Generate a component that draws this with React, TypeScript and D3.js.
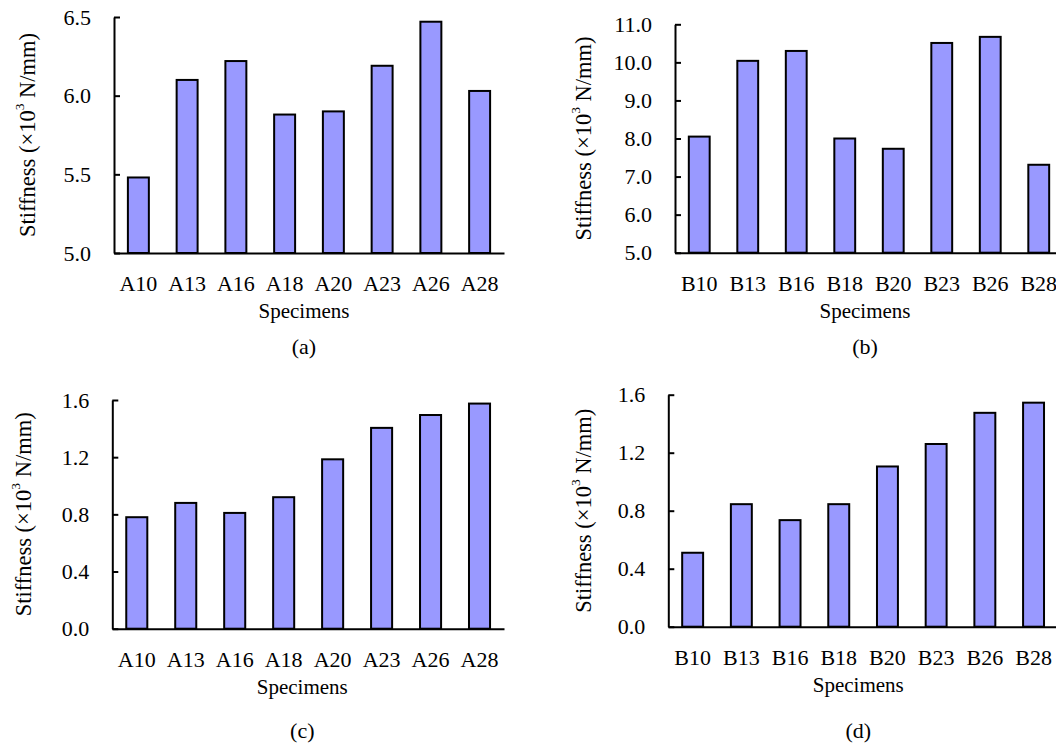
import React, { useEffect, useRef } from 'react';
import * as d3 from 'd3';

// specimen names
const specimensA = ['A10', 'A13', 'A16', 'A18', 'A20', 'A23', 'A26', 'A28'];
const specimensB = ['B10', 'B13', 'B16', 'B18', 'B20', 'B23', 'B26', 'B28'];

// stiffness values (x10^3 N/mm)
const stiffnessA1 = [5.48, 6.10, 6.22, 5.88, 5.90, 6.19, 6.47, 6.03];
const stiffnessB1 = [8.05, 10.04, 10.30, 8.00, 7.73, 10.51, 10.67, 7.31];
const stiffnessA2 = [0.78, 0.88, 0.81, 0.92, 1.185, 1.405, 1.495, 1.575];
const stiffnessB2 = [0.51, 0.845, 0.735, 0.845, 1.105, 1.26, 1.475, 1.545];

// y tick values
const ticksA1 = [5.0, 5.5, 6.0, 6.5];
const ticksB1 = [5.0, 6.0, 7.0, 8.0, 9.0, 10.0, 11.0];
const ticks2 = [0.0, 0.4, 0.8, 1.2, 1.6];

const panelLetters = ['(a)', '(b)', '(c)', '(d)'];

const FONT = '"Liberation Serif", "Times New Roman", serif';
const FS = 22; // tick labels
const FS_TITLE = 22.5; // y title

const App = () => {
  const ref = useRef<SVGSVGElement | null>(null);

  useEffect(() => {
    if (!ref.current) return;
    const svg = d3.select(ref.current);
    svg.selectAll('*').remove();

    const panels = [
      { cats: specimensA, vals: stiffnessA1, ticks: ticksA1, domain: [5, 6.5], x0: 114, w: 390, top: 17, bot: 253, titleX: 27, letterY: 354 },
      { cats: specimensB, vals: stiffnessB1, ticks: ticksB1, domain: [5, 11], x0: 675, w: 388, top: 24.3, bot: 252.7, titleX: 583, letterY: 354 },
      { cats: specimensA, vals: stiffnessA2, ticks: ticks2, domain: [0, 1.6], x0: 112.3, w: 391.7, top: 400, bot: 628.7, titleX: 23, letterY: 738 },
      { cats: specimensB, vals: stiffnessB2, ticks: ticks2, domain: [0, 1.6], x0: 668.3, w: 389.6, top: 394.7, bot: 626.7, titleX: 583, letterY: 738 },
    ];

    panels.forEach((p, i) => {
      const g = svg.append('g');

      const x = d3.scaleBand<string>()
        .domain(p.cats)
        .range([p.x0, p.x0 + p.w])
        .padding(0);

      const y = d3.scaleLinear()
        .domain(p.domain)
        .range([p.bot, p.top]);

      const barW = x.bandwidth() * 0.43;

      // bars
      g.selectAll('rect.bar')
        .data(p.vals)
        .enter()
        .append('rect')
        .attr('class', 'bar')
        .attr('x', (d, j) => (x(p.cats[j]) as number) + x.bandwidth() / 2 - barW / 2)
        .attr('y', d => y(d))
        .attr('width', barW)
        .attr('height', d => p.bot - y(d))
        .attr('fill', '#9999ff')
        .attr('stroke', '#000')
        .attr('stroke-width', 2);

      // y axis, ticks point inward
      const yAxis = g.append('g')
        .attr('transform', `translate(${p.x0},0)`)
        .call(
          d3.axisLeft(y)
            .tickValues(p.ticks)
            .tickFormat(d3.format('.1f'))
            .tickSizeInner(-6)
            .tickSizeOuter(0)
            .tickPadding(23)
        );
      yAxis.select('.domain').attr('stroke', '#000').attr('stroke-width', 2);
      yAxis.selectAll('.tick line').attr('stroke', '#000').attr('stroke-width', 2);
      yAxis.selectAll('.tick text')
        .attr('font-family', FONT)
        .attr('font-size', FS)
        .attr('fill', '#000');

      // x axis line
      const xAxis = g.append('g')
        .attr('transform', `translate(0,${p.bot})`)
        .call(d3.axisBottom(x).tickSize(0).tickSizeOuter(0).tickFormat(() => ''));
      xAxis.select('.domain').attr('stroke', '#000').attr('stroke-width', 2);

      // x labels
      g.selectAll('text.xl')
        .data(p.cats)
        .enter()
        .append('text')
        .attr('class', 'xl')
        .attr('x', d => (x(d) as number) + x.bandwidth() / 2)
        .attr('y', p.bot + 38)
        .attr('text-anchor', 'middle')
        .attr('font-family', FONT)
        .attr('font-size', FS)
        .text(d => d);

      // x title
      g.append('text')
        .attr('x', p.x0 + 190)
        .attr('y', p.bot + 65)
        .attr('text-anchor', 'middle')
        .attr('font-family', FONT)
        .attr('font-size', 21)
        .text('Specimens');

      // y title
      const yc = (p.top + p.bot) / 2;
      const title = g.append('text')
        .attr('transform', `translate(${p.titleX},${yc}) rotate(-90)`)
        .attr('text-anchor', 'middle')
        .attr('dominant-baseline', 'central')
        .attr('font-family', FONT)
        .attr('font-size', FS_TITLE);
      title.append('tspan').text('Stiffness (×10');
      title.append('tspan').attr('font-size', FS_TITLE * 0.6).attr('dy', -8).text('3');
      title.append('tspan').attr('dy', 8).text(' N/mm)');

      // panel letter
      g.append('text')
        .attr('x', p.x0 + 190)
        .attr('y', p.letterY)
        .attr('text-anchor', 'middle')
        .attr('font-family', FONT)
        .attr('font-size', FS)
        .text(panelLetters[i]);
    });
  }, []);

  return (
    <svg
      ref={ref}
      width={1056}
      height={745}
      style={{ position: 'absolute', left: 0, top: 0, background: '#fff' }}
    />
  );
};

export default App;
